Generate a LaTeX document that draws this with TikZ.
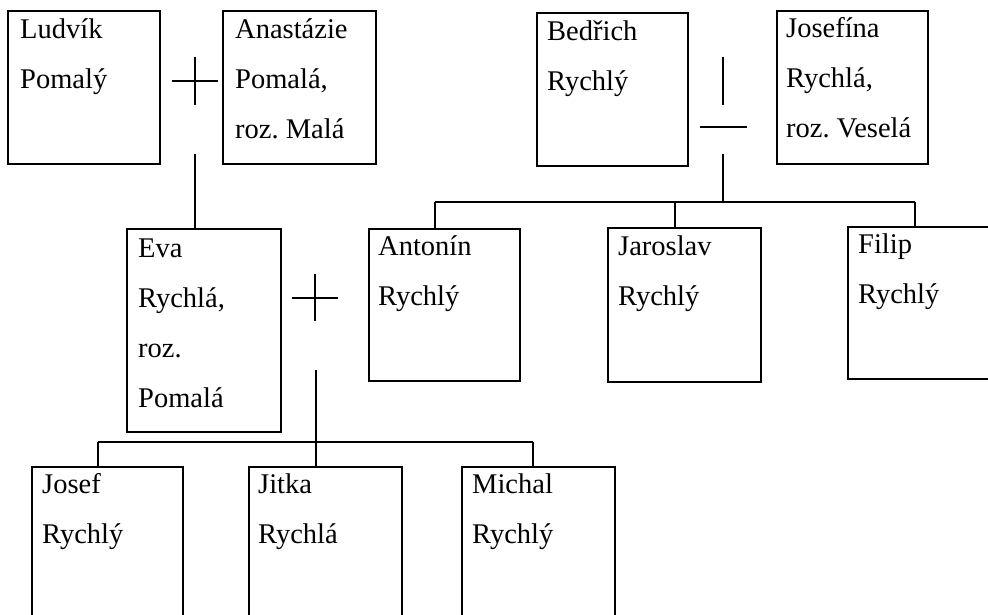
\documentclass[tikz,border=0pt]{standalone}
\usepackage{fontspec}
\setmainfont{Liberation Serif}
\newcommand\famfont{\fontsize{28.5}{50}\selectfont\frenchspacing}
\newcommand\lines[1]{\parbox[t]{150pt}{\raggedright\frenchspacing #1}}
\begin{document}
\begin{tikzpicture}[x=1pt,y=-1pt,
  box/.style={draw, line width=2.2pt, rectangle, anchor=north west, inner sep=0pt, outer sep=0pt},
  nametext/.style={anchor=base west, inner sep=0pt, font=\famfont},
  link/.style={line width=2pt}]
\useasboundingbox (0,0) rectangle (988,614);
\clip (0,0) rectangle (988,614);
\fill[white] (0,0) rectangle (988,614);

% top row
\node[box, minimum width=152pt, minimum height=153pt] (ludvik) at (8,11) {};
\node[nametext] (tludvik) at (20,38) {\lines{Ludvík\\Pomalý}};
\node[box, minimum width=153pt, minimum height=153pt] (anast) at (223,11) {};
\node[nametext] (tanast) at (235,38) {\lines{Anastázie\\Pomalá,\\roz. Malá}};
\node[box, minimum width=151pt, minimum height=153pt] (bedrich) at (537,13) {};
\node[nametext] (tbedrich) at (547,40) {\lines{Bedřich\\Rychlý}};
\node[box, minimum width=151pt, minimum height=153pt] (josefina) at (777,11) {};
\node[nametext] (tjosefina) at (786,37) {\lines{Josefína\\Rychlá,\\roz. Veselá}};

% middle row
\node[box, minimum width=154pt, minimum height=203pt] (eva) at (127,229) {};
\node[nametext] (teva) at (138,257) {\lines{Eva\\Rychlá,\\roz.\\Pomalá}};
\node[box, minimum width=151pt, minimum height=152pt] (antonin) at (369,229) {};
\node[nametext] (tantonin) at (378,255) {\lines{Antonín\\Rychlý}};
\node[box, minimum width=153pt, minimum height=154pt] (jaroslav) at (608,228) {};
\node[nametext] (tjaroslav) at (618,255) {\lines{Jaroslav\\Rychlý}};
\node[box, minimum width=152pt, minimum height=152pt] (filip) at (848,227) {};
\node[nametext] (tfilip) at (858,253) {\lines{Filip\\Rychlý}};

% bottom row
\node[box, minimum width=151pt, minimum height=152pt] (josef) at (32,467) {};
\node[nametext] (tjosef) at (42,493) {\lines{Josef\\Rychlý}};
\node[box, minimum width=153pt, minimum height=152pt] (jitka) at (249,467) {};
\node[nametext] (tjitka) at (258,493) {\lines{Jitka\\Rychlá}};
\node[box, minimum width=153pt, minimum height=152pt] (michal) at (462,467) {};
\node[nametext] (tmichal) at (472,493) {\lines{Michal\\Rychlý}};

% marriage 1 (Ludvik + Anastazie)
\coordinate (m1) at (195,81);
\draw[link] (m1) ++(-23,0) -- ++(46,0);
\draw[link] (m1) ++(0,-24) -- ++(0,48);
\coordinate (s1) at (195,154);
\draw[link] (s1) -- (s1 |- eva.north);

% marriage 2 (Bedrich + Josefina)
\coordinate (m2) at (723,57);
\draw[link] (m2) -- ++(0,48);
\coordinate (h2) at (700,127);
\draw[link] (h2) -- ++(47,0);
\coordinate (s2) at (723,154);
\coordinate (dA) at (435,202);
\coordinate (dJ) at (675,202);
\coordinate (dF) at (915,202);
\draw[link] (s2) -- (s2 |- dA);
\draw[link] (dA) -- (dF);
\draw[link] (dA) -- (dA |- antonin.north);
\draw[link] (dJ) -- (dJ |- jaroslav.north);
\draw[link] (dF) -- (dF |- filip.north);

% marriage 3 (Eva + Antonin)
\coordinate (m3) at (315,298);
\draw[link] (m3) ++(-23,0) -- ++(46,0);
\draw[link] (m3) ++(0,-24) -- ++(0,47);
\coordinate (s3) at (316,370);
\coordinate (dJo) at (98,442);
\coordinate (dMi) at (533,442);
\draw[link] (s3) -- (s3 |- jitka.north);
\draw[link] (dJo) -- (dMi);
\draw[link] (dJo) -- (dJo |- josef.north);
\draw[link] (dMi) -- (dMi |- michal.north);
\end{tikzpicture}
\end{document}
